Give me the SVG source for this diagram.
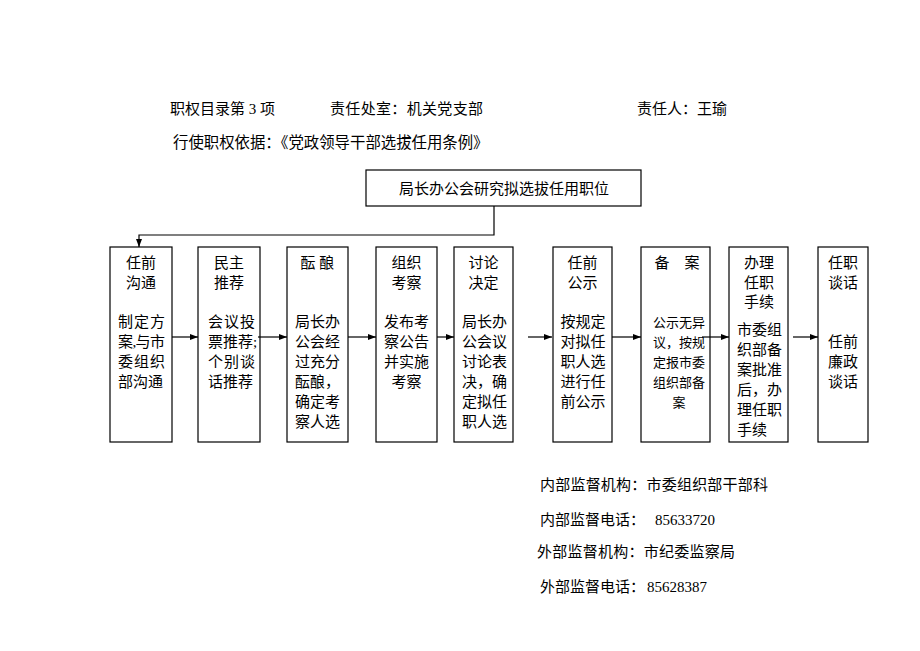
<svg xmlns="http://www.w3.org/2000/svg" width="920" height="651" viewBox="0 0 920 651">
<defs>
<marker id="ah" markerWidth="8" markerHeight="8" refX="8" refY="4" orient="auto" markerUnits="userSpaceOnUse">
<path d="M0,1 L8,4 L0,7 Z" fill="#000"/>
</marker>
<style>
text{font-family:"Liberation Serif","Noto Sans CJK SC",serif;fill:#000;}
.h{font-size:15px;}
.t{font-size:15px;text-anchor:middle;}
.l{font-size:15px;}
.s{font-size:13px;}
.box{fill:#fff;stroke:#000;stroke-width:1.2;}
.ln{fill:none;stroke:#000;stroke-width:1.2;}
</style>
</defs>
<rect width="920" height="651" fill="#fff"/>
<g id="header">
<text class="h" x="170" y="114">职权目录第 3 项</text>
<text class="h" x="330" y="114" textLength="153" lengthAdjust="spacing">责任处室：机关党支部</text>
<text class="h" x="637" y="114">责任人：王瑜</text>
<text class="h" x="173" y="148" style="font-size:15.4px">行使职权依据：《党政领导干部选拔任用条例》</text>
</g>
<g id="top">
<rect class="box" x="366" y="170" width="275" height="36"/>
<text class="t" x="504" y="193.5">局长办公会研究拟选拔任用职位</text>
</g>
<g id="n1">
<rect class="box" x="110" y="247" width="62" height="195"/>
<text class="t" x="141" y="268">任前</text>
<text class="t" x="141" y="288">沟通</text>
<text class="l" x="118" y="327" textLength="47" lengthAdjust="spacing">制定方</text>
<text class="l" x="118" y="347" textLength="47" lengthAdjust="spacing">案,与市</text>
<text class="l" x="118" y="367" textLength="47" lengthAdjust="spacing">委组织</text>
<text class="l" x="118" y="387">部沟通</text>
</g>
<g id="n2">
<rect class="box" x="198" y="247" width="62" height="195"/>
<text class="t" x="229" y="268">民主</text>
<text class="t" x="229" y="288">推荐</text>
<text class="l" x="208" y="327" textLength="47" lengthAdjust="spacing">会议投</text>
<text class="l" x="208" y="347">票推荐;</text>
<text class="l" x="208" y="367" textLength="47" lengthAdjust="spacing">个别谈</text>
<text class="l" x="208" y="387">话推荐</text>
</g>
<g id="n3">
<rect class="box" x="287" y="247" width="61" height="195"/>
<text class="t" x="317.5" y="268">酝 酿</text>
<text class="l" x="295" y="327">局长办</text>
<text class="l" x="295" y="347">公会经</text>
<text class="l" x="295" y="367">过充分</text>
<text class="l" x="295" y="387">酝酿，</text>
<text class="l" x="295" y="407">确定考</text>
<text class="l" x="295" y="427">察人选</text>
</g>
<g id="n4">
<rect class="box" x="376" y="247" width="61" height="195"/>
<text class="t" x="406.5" y="268">组织</text>
<text class="t" x="406.5" y="288">考察</text>
<text class="t" x="406.5" y="327">发布考</text>
<text class="t" x="406.5" y="347">察公告</text>
<text class="t" x="406.5" y="367">并实施</text>
<text class="t" x="406.5" y="387">考察</text>
</g>
<g id="n5">
<rect class="box" x="454" y="247" width="59" height="195"/>
<text class="t" x="483.5" y="268">讨论</text>
<text class="t" x="483.5" y="288">决定</text>
<text class="t" x="484.5" y="327">局长办</text>
<text class="t" x="484.5" y="347">公会议</text>
<text class="t" x="484.5" y="367">讨论表</text>
<text class="t" x="484.5" y="387">决，确</text>
<text class="t" x="484.5" y="407">定拟任</text>
<text class="t" x="484.5" y="427">职人选</text>
</g>
<g id="n6">
<rect class="box" x="553" y="247" width="59" height="195"/>
<text class="t" x="582.5" y="268">任前</text>
<text class="t" x="582.5" y="288">公示</text>
<text class="t" x="583" y="327">按规定</text>
<text class="t" x="583" y="347">对拟任</text>
<text class="t" x="583" y="367">职人选</text>
<text class="t" x="583" y="387">进行任</text>
<text class="t" x="583" y="407">前公示</text>
</g>
<g id="n7">
<rect class="box" x="641" y="247" width="69" height="195"/>
<text class="t" x="677" y="268">备　案</text>
<text class="s" x="653" y="327">公示无异</text>
<text class="s" x="653" y="347">议，按规</text>
<text class="s" x="653" y="367">定报市委</text>
<text class="s" x="653" y="387">组织部备</text>
<text class="s" x="679" y="407" text-anchor="middle">案</text>
</g>
<g id="n8">
<rect class="box" x="729" y="247" width="59" height="195"/>
<text class="t" x="759" y="268">办理</text>
<text class="t" x="759" y="288">任职</text>
<text class="t" x="759" y="307">手续</text>
<text class="l" x="737" y="335">市委组</text>
<text class="l" x="737" y="355">织部备</text>
<text class="l" x="737" y="375">案批准</text>
<text class="l" x="737" y="395">后，办</text>
<text class="l" x="737" y="415">理任职</text>
<text class="l" x="737" y="435">手续</text>
</g>
<g id="n9">
<rect class="box" x="818" y="247" width="50" height="195"/>
<text class="t" x="843" y="268">任职</text>
<text class="t" x="843" y="288">谈话</text>
<text class="t" x="843" y="347">任前</text>
<text class="t" x="843" y="367">廉政</text>
<text class="t" x="843" y="387">谈话</text>
</g>
<g id="connectors">
<path class="ln" d="M494,206 V235 H139 V247" marker-end="url(#ah)"/>
<line class="ln" x1="172" y1="337" x2="198" y2="337" marker-end="url(#ah)"/>
<line class="ln" x1="258" y1="337" x2="287" y2="337" marker-end="url(#ah)"/>
<line class="ln" x1="348" y1="337" x2="376" y2="337" marker-end="url(#ah)"/>
<line class="ln" x1="437" y1="337" x2="454" y2="337" marker-end="url(#ah)"/>
<line class="ln" x1="528" y1="337" x2="552" y2="337" marker-end="url(#ah)"/>
<line class="ln" x1="612" y1="337" x2="641" y2="337" marker-end="url(#ah)"/>
<line class="ln" x1="702" y1="337" x2="729" y2="337" marker-end="url(#ah)"/>
<line class="ln" x1="793" y1="337" x2="818" y2="337" marker-end="url(#ah)"/>
</g>
<g id="footer">
<text class="h" x="540" y="490" textLength="228" lengthAdjust="spacing">内部监督机构：市委组织部干部科</text>
<text class="h" x="540" y="525">内部监督电话：<tspan x="655">85633720</tspan></text>
<text class="h" x="537" y="557" textLength="198" lengthAdjust="spacing">外部监督机构：市纪委监察局</text>
<text class="h" x="540" y="592">外部监督电话：<tspan x="647">85628387</tspan></text>
</g>
</svg>
